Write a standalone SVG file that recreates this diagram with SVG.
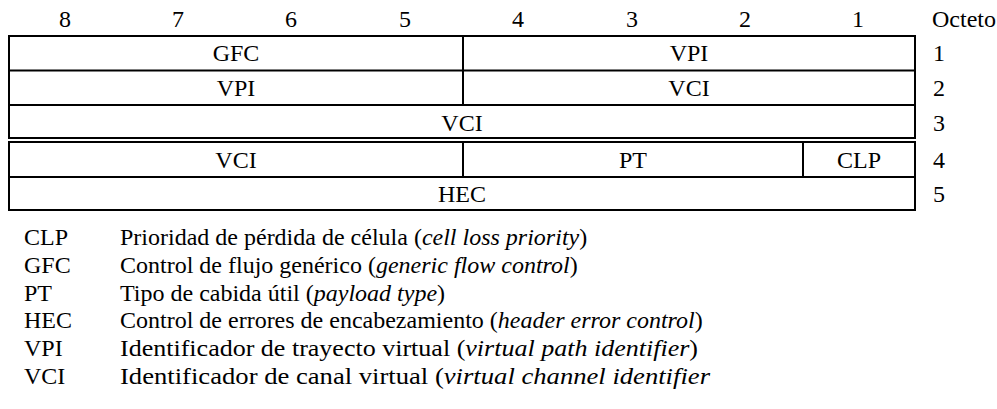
<svg xmlns="http://www.w3.org/2000/svg" width="997" height="409" viewBox="0 0 997 409">
<style>
text{font-family:"Liberation Serif","Times New Roman",serif;font-size:24px;fill:#000}
.c{text-anchor:middle}
.i{font-style:italic}
.b{fill:none;stroke:#000;stroke-width:2}
</style>
<rect width="997" height="409" fill="#fff"/>
<g id="bits">
<text class="c" x="65" y="27">8</text>
<text class="c" x="178" y="27">7</text>
<text class="c" x="291" y="27">6</text>
<text class="c" x="405" y="27">5</text>
<text class="c" x="518" y="27">4</text>
<text class="c" x="632" y="27">3</text>
<text class="c" x="745" y="27">2</text>
<text class="c" x="858" y="27">1</text>
<text x="932" y="27">Octeto</text>
</g>
<g id="octet-numbers">
<text x="933" y="61">1</text>
<text x="933" y="96">2</text>
<text x="933" y="131">3</text>
<text x="933" y="168">4</text>
<text x="933" y="202">5</text>
</g>
<g id="header-upper">
<rect class="b" x="9" y="36" width="906" height="102"/>
<line class="b" x1="9" y1="70.5" x2="915" y2="70.5"/>
<line class="b" x1="9" y1="105" x2="915" y2="105"/>
<line class="b" x1="463" y1="36" x2="463" y2="105"/>
</g>
<g id="header-lower">
<rect class="b" x="9" y="142" width="906" height="68"/>
<line class="b" x1="9" y1="177" x2="915" y2="177"/>
<line class="b" x1="463" y1="142" x2="463" y2="177"/>
<line class="b" x1="803" y1="142" x2="803" y2="177"/>
</g>
<g id="fields">
<text class="c" x="236" y="61">GFC</text>
<text class="c" x="689" y="61">VPI</text>
<text class="c" x="236" y="96">VPI</text>
<text class="c" x="689" y="96">VCI</text>
<text class="c" x="462" y="131">VCI</text>
<text class="c" x="236" y="168">VCI</text>
<text class="c" x="633" y="168">PT</text>
<text class="c" x="859" y="168">CLP</text>
<text class="c" x="462" y="202">HEC</text>
</g>
<g id="legend">
<text x="24" y="245">CLP</text>
<text x="120" y="245">Prioridad de pérdida de célula (<tspan class="i">cell loss priority</tspan>)</text>
<text x="24" y="273">GFC</text>
<text x="120" y="273">Control de flujo genérico (<tspan class="i">generic flow control</tspan>)</text>
<text x="24" y="301">PT</text>
<text x="120" y="301">Tipo de cabida útil (<tspan class="i">payload type</tspan>)</text>
<text x="24" y="328">HEC</text>
<text x="120" y="328">Control de errores de encabezamiento (<tspan class="i">header error control</tspan>)</text>
<text x="24" y="356">VPI</text>
<text x="120" y="356" textLength="578" lengthAdjust="spacingAndGlyphs">Identificador de trayecto virtual (<tspan class="i">virtual path identifier</tspan>)</text>
<text x="24" y="384">VCI</text>
<text x="120" y="384" textLength="590" lengthAdjust="spacingAndGlyphs">Identificador de canal virtual (<tspan class="i">virtual channel identifier</tspan></text>
</g>
</svg>
